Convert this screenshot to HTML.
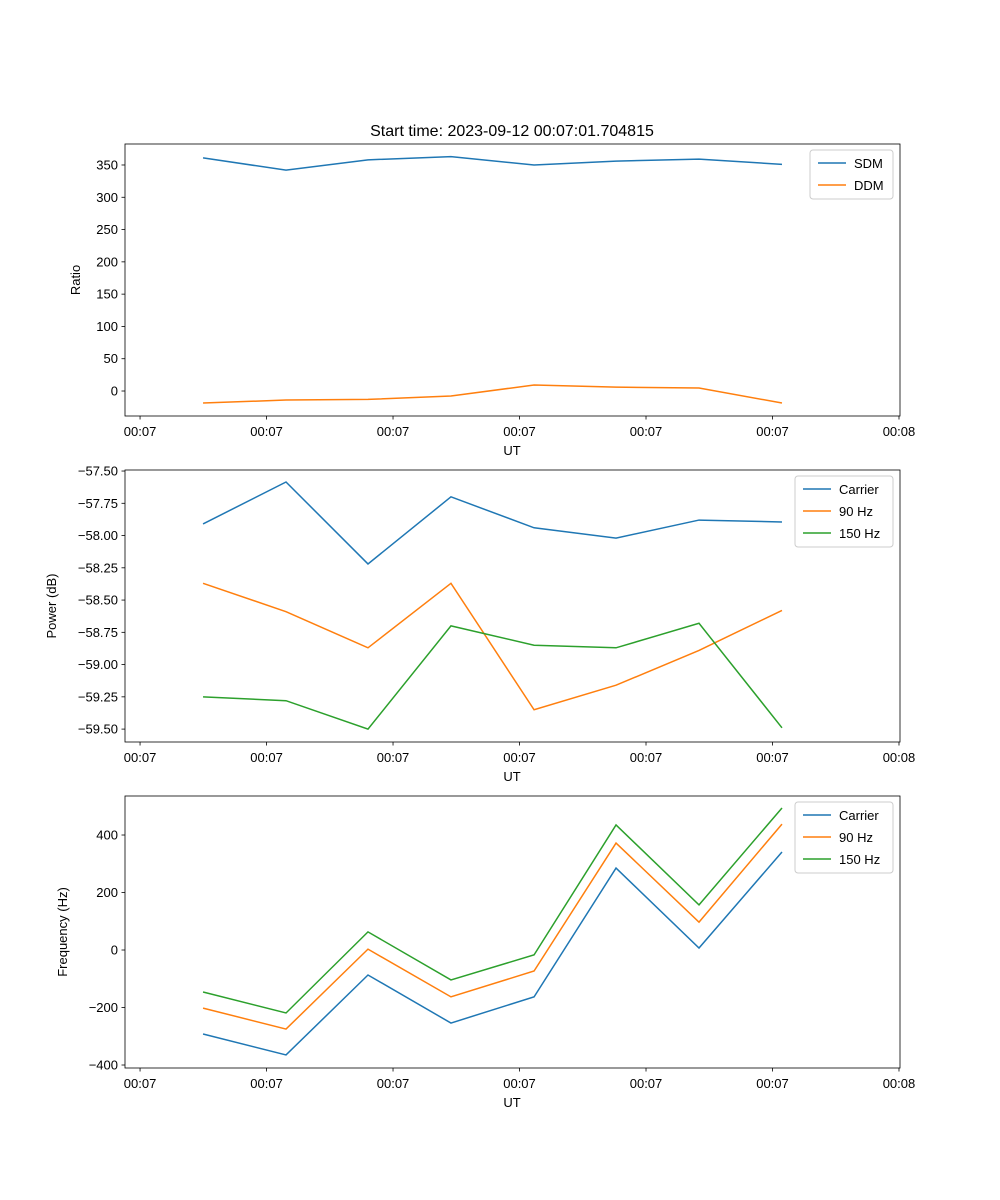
<!DOCTYPE html>
<html><head><meta charset="utf-8"><style>body{margin:0;background:#fff}svg{display:block;font-family:"Liberation Sans","DejaVu Sans",sans-serif}</style></head>
<body>
<svg id="fig" width="1000" height="1200" xmlns="http://www.w3.org/2000/svg"></svg>
<script>
const xVals=[0.498,1.154,1.802,2.458,3.115,3.763,4.419,5.075];
const xTicks=[0,1,2,3,4,5,6];
const xTickLabels=["00:07","00:07","00:07","00:07","00:07","00:07","00:08"];
const sdm=[361,342,358,363,350,356,359,351];
const ddm=[-18.6,-14,-13,-7.7,9.3,6,4.6,-18.6];
const pCarrier=[-57.91,-57.585,-58.22,-57.70,-57.94,-58.02,-57.88,-57.895];
const p90=[-58.37,-58.59,-58.87,-58.37,-59.35,-59.16,-58.89,-58.58];
const p150=[-59.25,-59.28,-59.50,-58.70,-58.85,-58.87,-58.68,-59.49];
const fCarrier=[-292,-365,-87,-254,-163,285,7,341];
const f90=[-202,-275,3,-163,-73,372,97,438];
const f150=[-146,-219,63,-104,-17,435,157,494];
const ticks1=[0,50,100,150,200,250,300,350];
const ticks2=[-59.5,-59.25,-59.0,-58.75,-58.5,-58.25,-58.0,-57.75,-57.5];
const ticks3=[-400,-200,0,200,400];
const C=['#1f77b4','#ff7f0e','#2ca02c'];
const svg=document.getElementById('fig');const NS='http://www.w3.org/2000/svg';
function mk(t,a,p){const e=document.createElementNS(NS,t);for(const k in a)e.setAttribute(k,a[k]);(p||svg).appendChild(e);return e;}
const L=125,R=900,xmin=-0.119,xmax=6.008;
const sx=v=>L+(v-xmin)/(xmax-xmin)*(R-L);
function panel(name,top,bot,ymin,ymax,yt,fmt,series,names,ylabel,leg){
 const g=mk('g',{});
 const sy=v=>bot-(v-ymin)/(ymax-ymin)*(bot-top);
 series.forEach((s,i)=>{const pl=mk('polyline',{points:s.map((v,j)=>sx(xVals[j])+','+sy(v)).join(' '),fill:'none',stroke:C[i],'stroke-width':1.5},g);
  });
 mk('rect',{x:L,y:top,width:R-L,height:bot-top,fill:'none',stroke:'#000','stroke-width':0.8},g);
 xTicks.forEach((t,i)=>{const x=sx(t);mk('line',{x1:x,x2:x,y1:bot,y2:bot+3.5,stroke:'#000','stroke-width':0.8},g);
  const tx=mk('text',{x:x,y:bot+20,'font-size':13,'text-anchor':'middle'},g);tx.textContent=xTickLabels[i];});
 yt.forEach(t=>{const y=sy(t);mk('line',{x1:L-3.5,x2:L,y1:y,y2:y,stroke:'#000','stroke-width':0.8},g);
  const tx=mk('text',{x:L-7,y:y+4.5,'font-size':13,'text-anchor':'end'},g);tx.textContent=fmt(t).replace('-','\u2212');});
 const xl=mk('text',{x:512,y:bot+39,'font-size':13,'text-anchor':'middle'},g);xl.textContent='UT';
 const yl=mk('text',{x:0,y:0,'font-size':13,'text-anchor':'middle',transform:`translate(${leg[3]},${(top+bot)/2}) rotate(-90)`},g);yl.textContent=ylabel;
 const lg=mk('g',{},g);
 const lx=leg[0],ly=top+6,lw=leg[1];
 mk('rect',{x:lx,y:ly,width:lw,height:names.length*22+5,rx:3,fill:'#fff',stroke:'#ccc','stroke-width':1},lg);
 names.forEach((n,i)=>{const yy=ly+13+i*22;mk('line',{x1:lx+8,x2:lx+36,y1:yy,y2:yy,stroke:C[i],'stroke-width':1.5},lg);
  const tx=mk('text',{x:lx+44,y:yy+5,'font-size':13},lg);tx.textContent=n;});
}
const t=mk('text',{x:512,y:136,'font-size':16,'text-anchor':'middle'});t.textContent='Start time: 2023-09-12 00:07:01.704815';
panel('ratio-panel',144,416,-38.7,382.5,ticks1,v=>String(v),[sdm,ddm],['SDM','DDM'],'Ratio',[810,83,0,80]);
panel('power-panel',470,742,-59.60,-57.492,ticks2,v=>v.toFixed(2),[pCarrier,p90,p150],['Carrier','90 Hz','150 Hz'],'Power (dB)',[795,98,0,56]);
panel('frequency-panel',796,1068,-410.4,535.7,ticks3,v=>String(v),[fCarrier,f90,f150],['Carrier','90 Hz','150 Hz'],'Frequency (Hz)',[795,98,0,67]);
</script>
</body></html>
